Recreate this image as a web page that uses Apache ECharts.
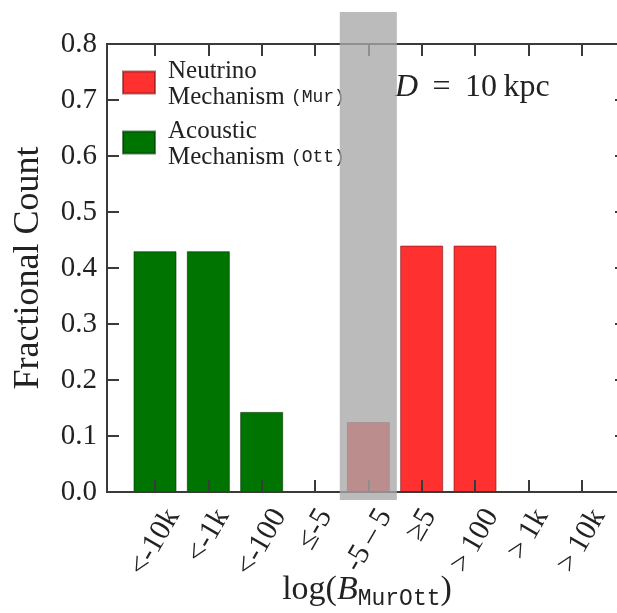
<!DOCTYPE html>
<html><head><meta charset="utf-8">
<script src="https://cdn.jsdelivr.net/npm/echarts@6/dist/echarts.min.js"></script>
<style>html,body{margin:0;padding:0;background:#fff}#c{width:617px;height:613px}</style>
</head><body><div id="c"></div>
<script>
// ---- data ----
const categories = ['<-10k', '<-1k', '<-100', '\u2264-5', '-5\u2009\u2013\u20095', '\u22655', '>\u2009100', '>\u20091k', '>\u200910k'];
const acousticValues = [0.43, 0.43, 0.143, 0, 0, 0, 0, 0, 0];
const neutrinoValues = [0, 0, 0, 0, 0.125, 0.44, 0.44, 0, 0];
const yTickValues = [0, 0.1, 0.2, 0.3, 0.4, 0.5, 0.6, 0.7, 0.8];
const categoryPositions = [0, 1, 2, 3, 4, 5, 6, 7, 8];
const shadedCategory = 4;          // '-5 – 5' bin is greyed out
const neutrinoName = 'Neutrino Mechanism (Mur)';
const acousticName = 'Acoustic Mechanism (Ott)';

// ---- styling ----
const SERIF = '"Liberation Serif", "DejaVu Serif", serif';
const MONO = '"Liberation Mono", "DejaVu Sans Mono", monospace';
const INK = '#222';
const AX = '#3a3a3a';
const LABEL_SIZE = 29;
const XLABEL_SIZE = 30;
const ROT = 60;

// rotated x labels: centre their bounding boxes on the tick (matplotlib ha=center, va=top)
const ctx = document.createElement('canvas').getContext('2d');
ctx.font = XLABEL_SIZE + 'px ' + SERIF;
const widths = categories.map(c => ctx.measureText(c).width);
const wMin = Math.min.apply(null, widths);
const sn = Math.sin(ROT * Math.PI / 180), cs = Math.cos(ROT * Math.PI / 180);
const xRich = {};
categories.forEach((c, i) => {
  const dL = widths[i] - wMin;
  xRich['p' + i] = { padding: [dL * sn * cs, dL * sn * sn, 0, 0], fontSize: XLABEL_SIZE, fontFamily: SERIF, color: INK };
});

const toPairs = vals => vals.map((v, i) => [categoryPositions[i], v]).filter(d => d[1] > 0);
const chart = echarts.init(document.getElementById('c'), null, { renderer: 'canvas' });

const xCommon = {
  type: 'value', min: -0.9, max: 8.85, z: 5,
  axisLine: { show: true, onZero: false, lineStyle: { color: AX, width: 2 } },
  axisTick: { show: true, inside: true, length: 12, customValues: categoryPositions, lineStyle: { color: AX, width: 2 } },
  splitLine: { show: false }
};
const yCommon = {
  type: 'value', min: 0, max: 0.8, interval: 0.1, z: 5,
  axisLine: { show: true, onZero: false, lineStyle: { color: AX, width: 2 } },
  axisTick: { show: true, inside: true, length: 12, lineStyle: { color: AX, width: 2 } },
  splitLine: { show: false }
};

chart.setOption({
  animation: false,
  backgroundColor: '#fff',
  grid: { left: 107, top: 44, width: 520, height: 448, containLabel: false, outerBoundsMode: 'none' },
  title: {
    text: '{i|D} \u2009=\u2009 10\u2009kpc',
    left: 390, top: 67,
    textStyle: {
      rich: { i: { fontFamily: SERIF, fontStyle: 'italic', fontSize: 32, color: INK } },
      fontFamily: SERIF, fontSize: 32, color: INK, fontWeight: 'normal'
    }
  },
  legend: {
    orient: 'vertical', left: 122, top: 59, padding: 0, itemGap: 9,
    itemWidth: 32, itemHeight: 22, icon: 'rect',
    data: [neutrinoName, acousticName],
    formatter: n => { const parts = n.split(' '); return '{t|' + parts[0] + '}\n{t|' + parts[1] + ' }{m|' + parts[2] + '}'; },
    textStyle: {
      padding: [4, 0, 0, 8],
      rich: {
        t: { fontFamily: SERIF, fontSize: 25, color: INK, lineHeight: 26 },
        m: { fontFamily: MONO, fontSize: 18, color: INK, lineHeight: 26 }
      }
    }
  },
  xAxis: [
    Object.assign({}, xCommon, {
      position: 'bottom',
      name: '{n|log(}{b|B}{s|MurOtt}{n|)}',
      nameLocation: 'middle', nameGap: 78, nameMoveOverlap: false,
      nameTextStyle: {
        rich: {
          n: { fontFamily: SERIF, fontSize: 34, color: INK, lineHeight: 40 },
          b: { fontFamily: SERIF, fontSize: 34, fontStyle: 'italic', color: INK, lineHeight: 40 },
          s: { fontFamily: MONO, fontSize: 23, color: INK, lineHeight: 22, verticalAlign: 'bottom' }
        }
      },
      axisLabel: {
        show: true, customValues: categoryPositions, rotate: ROT,
        align: 'center', verticalAlign: 'middle', margin: 33,
        formatter: v => { const i = Math.round(v); return '{p' + i + '|' + categories[i] + '}'; },
        rich: xRich
      }
    }),
    Object.assign({}, xCommon, { position: 'top', axisLabel: { show: false } })
  ],
  yAxis: [
    Object.assign({}, yCommon, {
      position: 'left',
      name: 'Fractional Count', nameLocation: 'middle', nameGap: 60, nameMoveOverlap: false,
      nameTextStyle: { fontFamily: SERIF, fontSize: 36, color: INK },
      axisLabel: { show: true, margin: 10, fontFamily: SERIF, fontSize: LABEL_SIZE, color: INK, formatter: v => v.toFixed(1) }
    }),
    Object.assign({}, yCommon, { position: 'right', axisLabel: { show: false } })
  ],
  series: [
    { name: acousticName, type: 'bar', data: toPairs(acousticValues), barWidth: 43, barGap: '-100%',
      itemStyle: { color: '#007400', borderColor: 'rgba(0,50,0,0.6)', borderWidth: 1 } },
    { name: neutrinoName, type: 'bar', data: toPairs(neutrinoValues), barWidth: 43, barGap: '-100%',
      itemStyle: { color: '#ff3030', borderColor: 'rgba(120,20,20,0.6)', borderWidth: 1 } }
  ]
});

// grey shaded band over the excluded bin, placed via the axes' own scales
const p0 = chart.convertToPixel({ gridIndex: 0 }, [shadedCategory - 0.535, 0.857]);
const p1 = chart.convertToPixel({ gridIndex: 0 }, [shadedCategory + 0.535, -0.0143]);
chart.setOption({
  graphic: [{
    type: 'rect', z: 100, silent: true,
    shape: { x: p0[0], y: p0[1], width: p1[0] - p0[0], height: p1[1] - p0[1] },
    style: { fill: 'rgba(168,168,168,0.78)' }
  }]
});
</script></body></html>
